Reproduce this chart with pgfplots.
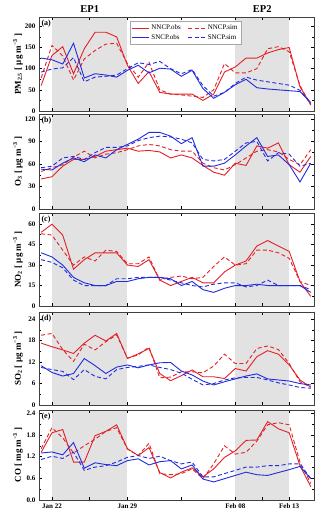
\documentclass[border=0pt]{standalone}
\usepackage{fontspec}
\setmainfont{Liberation Serif}
\usepackage{pgfplots}
\usepackage{pgfplotstable}
\pgfplotsset{compat=1.18}

\definecolor{cNN}{RGB}{228,32,38}
\definecolor{cSN}{RGB}{32,44,222}
\definecolor{cEP}{RGB}{226,226,226}

% day (Jan 21 = 21 ... Feb 15 = 46), NNCP obs/sim, SNCP obs/sim
\pgfplotstableread{
day nobs nsim sobs ssim
21 60 78 125 92
22 131 155 121 99
23 152 130 111 102
24 88 73 160 126
25 147 123 78 69
26 186 143 88 80
27 186 158 85 82
28 175 160 80 85
29 108 112 96 100
30 65 80 108 114
31 93 115 90 110
32 44 50 101 117
33 40 40 99 100
34 40 38 82 88
35 40 35 96 98
36 25 32 53 60
37 40 50 30 35
38 92 112 44 44
39 104 90 62 65
40 125 90 75 80
41 125 100 55 73
42 137 147 52 69
43 145 152 50 65
44 150 140 48 61
45 57 60 46 49
46 15 14 20 18
}\pmdata

\pgfplotstableread{
day nobs nsim sobs ssim
21 40 50 53 55
22 43 55 52 57
23 57 59 61 68
24 66 69 68 70
25 66 77 63 66
26 70 68 72 75
27 77 73 68 82
28 79 75 79 82
29 81 79 86 84
30 77 84 93 91
31 78 86 102 95
32 76 84 102 97
33 68 79 97 96
34 72 77 87 93
35 68 77 95 88
36 58 61 57 66
37 49 55 57 64
38 45 52 61 66
39 61 59 72 77
40 58 68 84 88
41 84 77 95 90
42 81 79 70 64
43 88 76 72 75
44 59 66 59 73
45 49 59 36 57
46 70 79 61 61
}\othree

\pgfplotstableread{
day nobs nsim sobs ssim
21 54 53 39 34
22 60 52 36 32
23 52 41 30 28
24 27 30 21 19
25 34 36 17 15
26 39 33 15 15
27 39 41 15 15
28 39 40 18 20
29 30 31 18 20
30 29 31 20 21
31 34 36 21 21
32 19 19 21 21
33 15 21 20 19
34 18 22 15 17
35 21 20 18 15
36 17 21 12 14
37 17 29 10 16
38 25 36 13 17
39 30 30 15 17
40 33 31 15 14
41 44 41 16 15
42 48 41 15 19
43 44 39 15 15
44 40 35 15 15
45 18 18 15 15
46 7 15 10 12
}\notwo

\pgfplotstableread{
day nobs nsim sobs ssim
21 17.3 19.5 11.0 10.5
22 16.3 20.0 9.1 9.9
23 15.4 15.5 8.1 9.4
24 14.4 12.2 8.8 7.1
25 17.3 17.0 13.0 9.9
26 19.5 15.4 11.0 8.0
27 17.9 17.7 8.8 7.3
28 20.0 19.6 10.6 9.9
29 13.0 13.1 11.2 10.5
30 14.3 14.0 10.4 10.8
31 15.8 16.2 11.2 11.2
32 8.8 7.6 11.8 10.5
33 6.8 7.8 11.9 9.9
34 8.2 9.3 9.5 8.9
35 9.8 9.3 8.4 7.2
36 7.9 9.0 6.7 5.6
37 7.9 10.9 5.6 6.0
38 7.4 14.2 6.5 7.0
39 10.2 11.6 7.3 7.6
40 9.5 11.6 8.1 7.7
41 13.5 15.8 8.7 7.7
42 15.2 16.5 7.3 7.0
43 14.2 15.5 7.0 6.2
44 11.2 11.6 6.7 5.6
45 7.0 6.5 6.0 4.9
46 5.0 5.0 5.6 4.7
}\sotwo

\pgfplotstableread{
day nobs nsim sobs ssim
21 1.32 1.42 1.30 1.12
22 1.86 2.00 1.33 1.21
23 1.95 1.72 1.25 1.15
24 1.05 1.30 1.59 1.32
25 1.05 1.50 0.88 0.82
26 1.78 1.68 1.03 0.91
27 1.90 1.90 0.98 0.95
28 2.08 2.00 0.95 1.05
29 1.42 1.41 1.09 1.18
30 1.23 1.23 1.14 1.23
31 1.45 1.57 0.97 1.15
32 0.76 0.73 1.06 1.21
33 0.61 0.70 1.09 1.09
34 0.77 0.73 0.86 1.00
35 0.89 0.86 0.97 1.05
36 0.64 0.59 0.58 0.64
37 0.86 1.00 0.50 0.64
38 1.18 1.50 0.59 0.73
39 1.36 1.27 0.68 0.82
40 1.65 1.32 0.77 0.91
41 1.66 1.63 0.70 0.91
42 2.17 2.08 0.68 0.95
43 1.97 2.14 0.76 0.95
44 1.86 2.08 0.84 1.00
45 0.95 1.05 0.93 1.00
46 0.37 0.46 0.59 0.59
}\codata

\pgfplotsset{
  panel/.style={
    scale only axis, width=275pt, anchor=north west,
    xmin=20.8, xmax=46.3, ymin=0,
    axis on top,
    xtick={22,25.5,29,34,39,41.5,44},
    xticklabels={},
    minor y tick num=1,
    major tick length=3pt, minor tick length=1.8pt,
    tick align=inside,
    tick style={black, line width=0.5pt},
    axis line style={line width=0.7pt, black!75},
    tick label style={font=\bfseries\fontsize{7}{8}\selectfont},
    /pgf/number format/assume math mode=true,
    every axis y label/.style={at={(rel axis cs:0,0.5)}, xshift=-21pt, rotate=90, anchor=center},
    ylabel style={font=\bfseries\fontsize{9}{10}\selectfont},
  },
  obs/.style={line width=0.9pt},
  sim/.style={line width=0.9pt, dash pattern=on 4pt off 2.5pt},
}

\newcommand{\plotfour}[1]{%
  \addplot[obs, cNN] table[x=day, y=nobs] {#1};
  \addplot[sim, cNN] table[x=day, y=nsim] {#1};
  \addplot[obs, cSN] table[x=day, y=sobs] {#1};
  \addplot[sim, cSN] table[x=day, y=ssim] {#1};
}
\newcommand{\panellabel}[1]{\node[anchor=north west, inner sep=1pt, font=\bfseries\fontsize{8}{9}\selectfont] at (rel axis cs:0.005,0.985) {#1};}

\begin{document}
\begin{tikzpicture}
\path[use as bounding box] (0,0) rectangle (320pt,-520pt);

% (a) PM2.5
\begin{axis}[panel, at={(39pt,-17pt)}, height=94pt, ymax=222,
  ytick={0,50,100,150,200}, clip=false,
  ylabel={PM\textsubscript{2.5} [ μg m\textsuperscript{−3} ]},
  legend style={at={(rel axis cs:0.33,0.955)}, anchor=north west, draw=black!35, fill=white,
    font=\fontsize{7}{8}\selectfont, inner sep=1.5pt, row sep=-1pt},
  legend columns=2, legend cell align=left,
  /tikz/every even column/.append style={column sep=5pt},
]
\fill[cEP] (axis cs:22,0) rectangle (axis cs:29,222);
\fill[cEP] (axis cs:39,0) rectangle (axis cs:44,222);
\addplot[obs, cNN] table[x=day, y=nobs] {\pmdata};
\addlegendentry{NNCP.obs}
\addplot[sim, cNN] table[x=day, y=nsim] {\pmdata};
\addlegendentry{NNCP.sim}
\addplot[obs, cSN] table[x=day, y=sobs] {\pmdata};
\addlegendentry{SNCP.obs}
\addplot[sim, cSN] table[x=day, y=ssim] {\pmdata};
\addlegendentry{SNCP.sim}
\panellabel{(a)}
\node[anchor=base, font=\bfseries\fontsize{10.5}{12}\selectfont] at (axis cs:25.5,222) [yshift=5pt] {EP1};
\node[anchor=base, font=\bfseries\fontsize{10.5}{12}\selectfont] at (axis cs:41.5,222) [yshift=5pt] {EP2};
\end{axis}

% (b) O3
\begin{axis}[panel, at={(39pt,-114pt)}, height=95pt, ymax=126.5,
  ytick={0,30,60,90,120},
  ylabel={O\textsubscript{3} [ μg m\textsuperscript{−3} ]},
]
\fill[cEP] (axis cs:22,0) rectangle (axis cs:29,126.5);
\fill[cEP] (axis cs:39,0) rectangle (axis cs:44,126.5);
\plotfour{\othree}
\panellabel{(b)}
\end{axis}

% (c) NO2
\begin{axis}[panel, at={(39pt,-213pt)}, height=93pt, ymax=68.2,
  ytick={0,15,30,45,60},
  ylabel={NO\textsubscript{2} [ μg m\textsuperscript{−3} ]},
]
\fill[cEP] (axis cs:22,0) rectangle (axis cs:29,68.2);
\fill[cEP] (axis cs:39,0) rectangle (axis cs:44,68.2);
\plotfour{\notwo}
\panellabel{(c)}
\end{axis}

% (d) SO2
\begin{axis}[panel, at={(39pt,-312pt)}, height=93pt, ymax=26,
  ytick={0,6,12,18,24},
  ylabel={SO\textsubscript{2} [ μg m\textsuperscript{−3} ]},
]
\fill[cEP] (axis cs:22,0) rectangle (axis cs:29,26);
\fill[cEP] (axis cs:39,0) rectangle (axis cs:44,26);
\plotfour{\sotwo}
\panellabel{(d)}
\end{axis}

% (e) CO
\begin{axis}[panel, at={(39pt,-410pt)}, height=90pt, ymax=2.49,
  ytick={0,0.6,1.2,1.8,2.4},
  yticklabel style={/pgf/number format/.cd, fixed, fixed zerofill, precision=1},
  xticklabels={Jan 22,,Jan 29,,Feb 08,,Feb 13},
  ylabel={CO [ mg m\textsuperscript{−3} ]},
]
\fill[cEP] (axis cs:22,0) rectangle (axis cs:29,2.49);
\fill[cEP] (axis cs:39,0) rectangle (axis cs:44,2.49);
\plotfour{\codata}
\panellabel{(e)}
\end{axis}
\end{tikzpicture}
\end{document}
